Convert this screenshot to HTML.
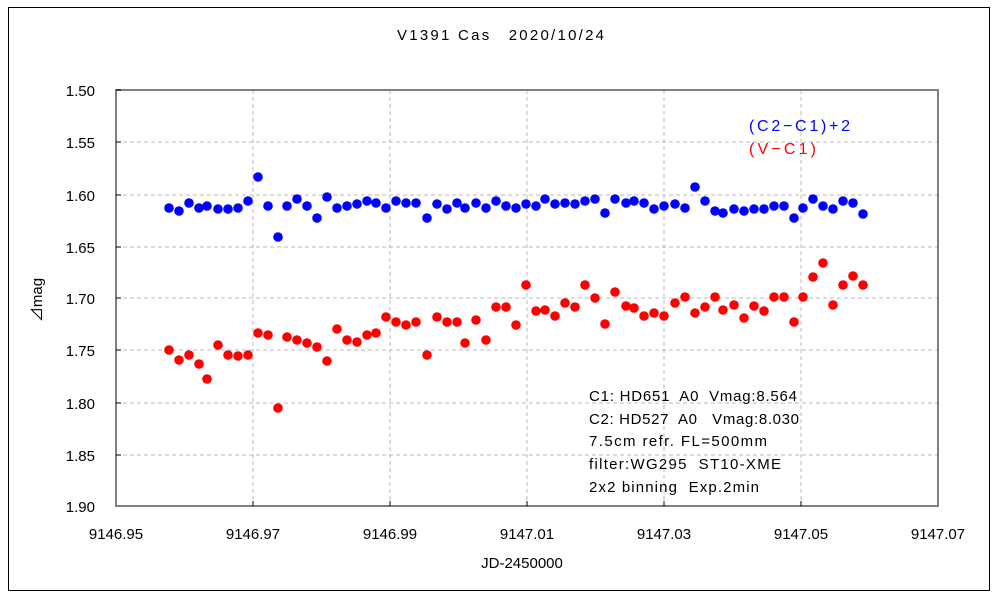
<!DOCTYPE html>
<html><head><meta charset="utf-8"><style>
html,body{margin:0;padding:0;background:#fff}
svg{display:block}
text{font-family:"Liberation Sans","Noto Sans CJK JP",sans-serif;font-size:15px;fill:#000;white-space:pre}
</style></head><body>
<svg width="1000" height="600" viewBox="0 0 1000 600" xmlns="http://www.w3.org/2000/svg">
<rect x="8.5" y="7.5" width="981" height="583" fill="#fff" stroke="#000" stroke-width="1"/>
<text x="397" y="40" textLength="207" lengthAdjust="spacing">V1391 Cas　2020/10/24</text>
<g stroke="#bbb" stroke-width="1" stroke-dasharray="4,3">
<line x1="116" y1="142" x2="938" y2="142"/><line x1="116" y1="195" x2="938" y2="195"/>
<line x1="116" y1="247" x2="938" y2="247"/><line x1="116" y1="298" x2="938" y2="298"/>
<line x1="116" y1="350" x2="938" y2="350"/><line x1="116" y1="403" x2="938" y2="403"/>
<line x1="116" y1="455" x2="938" y2="455"/>
<line x1="253" y1="90" x2="253" y2="506"/><line x1="390" y1="90" x2="390" y2="506"/>
<line x1="527" y1="90" x2="527" y2="506"/><line x1="664" y1="90" x2="664" y2="506"/>
<line x1="801" y1="90" x2="801" y2="506"/>
</g>
<rect x="116" y="90" width="822" height="416" fill="none" stroke="#808080" stroke-width="2"/>
<g stroke="#000" stroke-width="1">
<line x1="116" y1="90" x2="121" y2="90"/><line x1="116" y1="142" x2="121" y2="142"/><line x1="116" y1="195" x2="121" y2="195"/><line x1="116" y1="247" x2="121" y2="247"/><line x1="116" y1="298" x2="121" y2="298"/><line x1="116" y1="350" x2="121" y2="350"/><line x1="116" y1="403" x2="121" y2="403"/><line x1="116" y1="455" x2="121" y2="455"/>
<line x1="253" y1="506" x2="253" y2="501"/><line x1="390" y1="506" x2="390" y2="501"/><line x1="527" y1="506" x2="527" y2="501"/><line x1="664" y1="506" x2="664" y2="501"/><line x1="801" y1="506" x2="801" y2="501"/>
</g>
<g text-anchor="end">
<text x="95" y="96">1.50</text><text x="95" y="148">1.55</text><text x="95" y="201">1.60</text><text x="95" y="253">1.65</text><text x="95" y="304">1.70</text><text x="95" y="356">1.75</text><text x="95" y="409">1.80</text><text x="95" y="461">1.85</text><text x="95" y="512">1.90</text>
</g>
<g text-anchor="middle">
<text x="116" y="539">9146.95</text><text x="253" y="539">9146.97</text><text x="390" y="539">9146.99</text><text x="527" y="539">9147.01</text><text x="664" y="539">9147.03</text><text x="801" y="539">9147.05</text><text x="938" y="539">9147.07</text>
<text x="522" y="568">JD-2450000</text>
</g>
<text transform="translate(42,300) rotate(-90)" text-anchor="middle">⊿mag</text>
<g fill="#0000ff">
<circle cx="169" cy="208" r="4.8"/><circle cx="179" cy="211" r="4.8"/><circle cx="189" cy="203" r="4.8"/><circle cx="199" cy="208" r="4.8"/><circle cx="207" cy="206" r="4.8"/><circle cx="218" cy="209" r="4.8"/><circle cx="228" cy="209" r="4.8"/><circle cx="238" cy="208" r="4.8"/><circle cx="248" cy="201" r="4.8"/><circle cx="258" cy="177" r="4.8"/><circle cx="268" cy="206" r="4.8"/><circle cx="278" cy="237" r="4.8"/><circle cx="287" cy="206" r="4.8"/><circle cx="297" cy="199" r="4.8"/><circle cx="307" cy="206" r="4.8"/><circle cx="317" cy="218" r="4.8"/><circle cx="327" cy="197" r="4.8"/><circle cx="337" cy="208" r="4.8"/><circle cx="347" cy="206" r="4.8"/><circle cx="357" cy="204" r="4.8"/><circle cx="367" cy="201" r="4.8"/><circle cx="376" cy="203" r="4.8"/><circle cx="386" cy="208" r="4.8"/><circle cx="396" cy="201" r="4.8"/><circle cx="406" cy="203" r="4.8"/><circle cx="416" cy="203" r="4.8"/><circle cx="427" cy="218" r="4.8"/><circle cx="437" cy="204" r="4.8"/><circle cx="447" cy="209" r="4.8"/><circle cx="457" cy="203" r="4.8"/><circle cx="465" cy="208" r="4.8"/><circle cx="476" cy="203" r="4.8"/><circle cx="486" cy="208" r="4.8"/><circle cx="496" cy="201" r="4.8"/><circle cx="506" cy="206" r="4.8"/><circle cx="516" cy="208" r="4.8"/><circle cx="526" cy="204" r="4.8"/><circle cx="536" cy="206" r="4.8"/><circle cx="545" cy="199" r="4.8"/><circle cx="555" cy="204" r="4.8"/><circle cx="565" cy="203" r="4.8"/><circle cx="575" cy="204" r="4.8"/><circle cx="585" cy="201" r="4.8"/><circle cx="595" cy="199" r="4.8"/><circle cx="605" cy="213" r="4.8"/><circle cx="615" cy="199" r="4.8"/><circle cx="626" cy="203" r="4.8"/><circle cx="634" cy="201" r="4.8"/><circle cx="644" cy="203" r="4.8"/><circle cx="654" cy="209" r="4.8"/><circle cx="664" cy="206" r="4.8"/><circle cx="675" cy="204" r="4.8"/><circle cx="685" cy="208" r="4.8"/><circle cx="695" cy="187" r="4.8"/><circle cx="705" cy="201" r="4.8"/><circle cx="715" cy="211" r="4.8"/><circle cx="723" cy="213" r="4.8"/><circle cx="734" cy="209" r="4.8"/><circle cx="744" cy="211" r="4.8"/><circle cx="754" cy="209" r="4.8"/><circle cx="764" cy="209" r="4.8"/><circle cx="774" cy="206" r="4.8"/><circle cx="784" cy="206" r="4.8"/><circle cx="794" cy="218" r="4.8"/><circle cx="803" cy="208" r="4.8"/><circle cx="813" cy="199" r="4.8"/><circle cx="823" cy="206" r="4.8"/><circle cx="833" cy="209" r="4.8"/><circle cx="843" cy="201" r="4.8"/><circle cx="853" cy="203" r="4.8"/><circle cx="863" cy="214" r="4.8"/>
</g>
<g fill="#ff0000">
<circle cx="169" cy="350" r="4.8"/><circle cx="179" cy="360" r="4.8"/><circle cx="189" cy="355" r="4.8"/><circle cx="199" cy="364" r="4.8"/><circle cx="207" cy="379" r="4.8"/><circle cx="218" cy="345" r="4.8"/><circle cx="228" cy="355" r="4.8"/><circle cx="238" cy="356" r="4.8"/><circle cx="248" cy="355" r="4.8"/><circle cx="258" cy="333" r="4.8"/><circle cx="268" cy="335" r="4.8"/><circle cx="278" cy="408" r="4.8"/><circle cx="287" cy="337" r="4.8"/><circle cx="297" cy="340" r="4.8"/><circle cx="307" cy="343" r="4.8"/><circle cx="317" cy="347" r="4.8"/><circle cx="327" cy="361" r="4.8"/><circle cx="337" cy="329" r="4.8"/><circle cx="347" cy="340" r="4.8"/><circle cx="357" cy="342" r="4.8"/><circle cx="367" cy="335" r="4.8"/><circle cx="376" cy="333" r="4.8"/><circle cx="386" cy="317" r="4.8"/><circle cx="396" cy="322" r="4.8"/><circle cx="406" cy="325" r="4.8"/><circle cx="416" cy="322" r="4.8"/><circle cx="427" cy="355" r="4.8"/><circle cx="437" cy="317" r="4.8"/><circle cx="447" cy="322" r="4.8"/><circle cx="457" cy="322" r="4.8"/><circle cx="465" cy="343" r="4.8"/><circle cx="476" cy="320" r="4.8"/><circle cx="486" cy="340" r="4.8"/><circle cx="496" cy="307" r="4.8"/><circle cx="506" cy="307" r="4.8"/><circle cx="516" cy="325" r="4.8"/><circle cx="526" cy="285" r="4.8"/><circle cx="536" cy="311" r="4.8"/><circle cx="545" cy="310" r="4.8"/><circle cx="555" cy="316" r="4.8"/><circle cx="565" cy="303" r="4.8"/><circle cx="575" cy="307" r="4.8"/><circle cx="585" cy="285" r="4.8"/><circle cx="595" cy="298" r="4.8"/><circle cx="605" cy="324" r="4.8"/><circle cx="615" cy="292" r="4.8"/><circle cx="626" cy="306" r="4.8"/><circle cx="634" cy="308" r="4.8"/><circle cx="644" cy="316" r="4.8"/><circle cx="654" cy="313" r="4.8"/><circle cx="664" cy="316" r="4.8"/><circle cx="675" cy="303" r="4.8"/><circle cx="685" cy="297" r="4.8"/><circle cx="695" cy="313" r="4.8"/><circle cx="705" cy="307" r="4.8"/><circle cx="715" cy="297" r="4.8"/><circle cx="723" cy="310" r="4.8"/><circle cx="734" cy="305" r="4.8"/><circle cx="744" cy="318" r="4.8"/><circle cx="754" cy="306" r="4.8"/><circle cx="764" cy="311" r="4.8"/><circle cx="774" cy="297" r="4.8"/><circle cx="784" cy="297" r="4.8"/><circle cx="794" cy="322" r="4.8"/><circle cx="803" cy="297" r="4.8"/><circle cx="813" cy="277" r="4.8"/><circle cx="823" cy="263" r="4.8"/><circle cx="833" cy="305" r="4.8"/><circle cx="843" cy="285" r="4.8"/><circle cx="853" cy="276" r="4.8"/><circle cx="863" cy="285" r="4.8"/>
</g>
<text x="749" y="131" style="fill:#0000ff;font-size:16px" textLength="101" lengthAdjust="spacing">(C2−C1)+2</text>
<text x="749" y="154" style="fill:#ff0000;font-size:16px" textLength="67" lengthAdjust="spacing">(V−C1)</text>
<g style="font-size:15px">
<text x="589" y="401" textLength="208" lengthAdjust="spacing">C1: HD651  A0  Vmag:8.564</text>
<text x="589" y="424" textLength="210" lengthAdjust="spacing">C2: HD527  A0   Vmag:8.030</text>
<text x="589" y="446" textLength="178" lengthAdjust="spacing">7.5cm refr. FL=500mm</text>
<text x="589" y="469" textLength="192" lengthAdjust="spacing">filter:WG295  ST10-XME</text>
<text x="589" y="492" textLength="170" lengthAdjust="spacing">2x2 binning  Exp.2min</text>
</g>
</svg>
</body></html>
